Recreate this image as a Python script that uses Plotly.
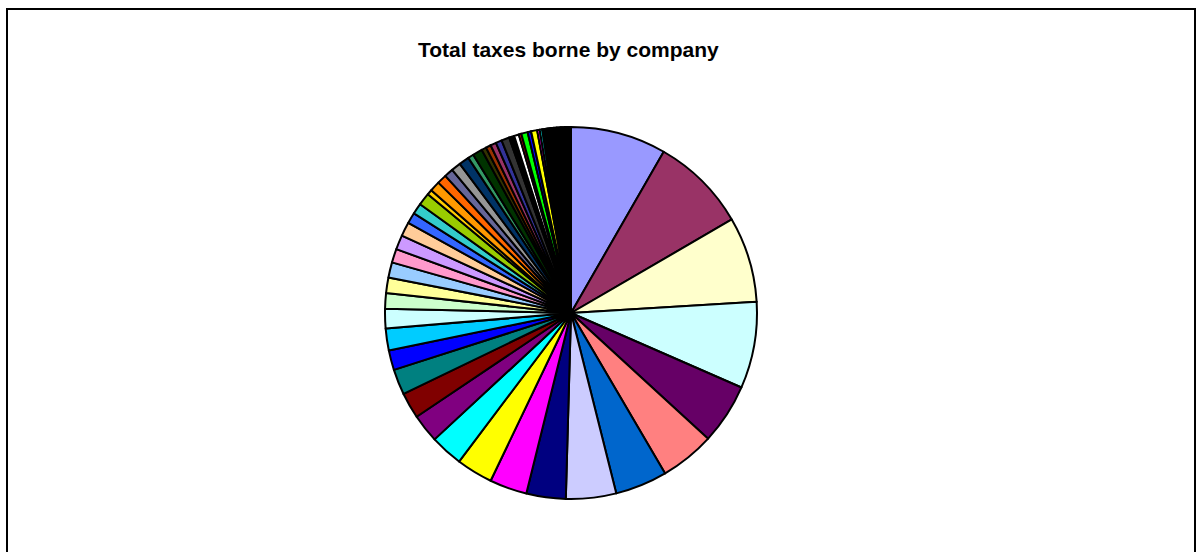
import plotly.graph_objects as go

# Share of total taxes borne (read as degrees of the pie, clockwise from 12 o'clock)
shares = [
    29.9, 29.9, 26.7, 27.1, 18.9, 17.1, 16.3, 15.7, 12.3, 11.7,
    11.4, 10.2, 8.9, 8.1, 8.0, 6.2, 6.8, 6.1, 4.9, 4.8,
    4.8, 4.3, 4.5, 4.4, 3.4, 3.4, 3.9, 1.6, 3.2, 3.0,
    2.8, 3.0, 3.2, 1.8, 3.0, 1.5, 1.6, 1.8, 1.9, 2.5,
    1.6, 1.5, 0.8, 2.0, 1.1, 1.9, 0.8, 0.8, 0.6, 0.6,
    0.5, 0.5, 0.5, 0.5, 0.5, 0.4, 0.4, 0.4, 0.35, 0.35,
    0.3, 0.3, 0.3, 0.3, 0.25, 0.25, 0.2, 0.2, 0.2, 0.15,
    0.15, 0.15, 0.1, 0.1, 0.1, 0.1, 0.05, 0.05, 0.05,
]
companies = [f"Company {i + 1}" for i in range(len(shares))]

palette = [
    "#9999FF", "#993366", "#FFFFCC", "#CCFFFF", "#660066", "#FF8080", "#0066CC", "#CCCCFF",
    "#000080", "#FF00FF", "#FFFF00", "#00FFFF", "#800080", "#800000", "#008080", "#0000FF",
    "#00CCFF", "#CCFFFF", "#CCFFCC", "#FFFF99", "#99CCFF", "#FF99CC", "#CC99FF", "#FFCC99",
    "#3366FF", "#33CCCC", "#99CC00", "#FFCC00", "#FF9900", "#FF6600", "#666699", "#969696",
    "#003366", "#339966", "#003300", "#333300", "#993300", "#993366", "#333399", "#333333",
    "#000000", "#FFFFFF", "#FF0000", "#00FF00", "#0000FF", "#FFFF00", "#FF00FF", "#00FFFF",
    "#800000", "#008000", "#000080", "#808000", "#800080", "#008080", "#C0C0C0", "#808080",
]
colors = [palette[i % len(palette)] for i in range(len(shares))]

W, H = 1196, 552
cx, cy, r = 571, 313, 186

fig = go.Figure(go.Pie(
    labels=companies,
    values=shares,
    sort=False,
    direction="clockwise",
    rotation=0,
    textinfo="none",
    hoverinfo="label+percent",
    marker=dict(colors=colors, line=dict(color="#000000", width=2)),
    domain=dict(x=[(cx - r) / W, (cx + r) / W], y=[(H - cy - r) / H, (H - cy + r) / H]),
    showlegend=False,
))

fig.add_shape(type="rect", xref="paper", yref="paper",
              x0=7 / W, x1=1195 / W, y0=-0.05, y1=1 - 9 / H,
              line=dict(color="#000000", width=2), fillcolor="rgba(0,0,0,0)")

fig.add_annotation(text="<b>Total taxes borne by company</b>", xref="paper", yref="paper",
                   x=568 / W, y=1 - 50 / H, xanchor="center", yanchor="middle",
                   showarrow=False, font=dict(family="Arial, Liberation Sans", size=21, color="#000000"))

fig.update_layout(width=W, height=H, margin=dict(l=0, r=0, t=0, b=0),
                  paper_bgcolor="#FFFFFF", plot_bgcolor="#FFFFFF")

fig.write_html("out.html")
